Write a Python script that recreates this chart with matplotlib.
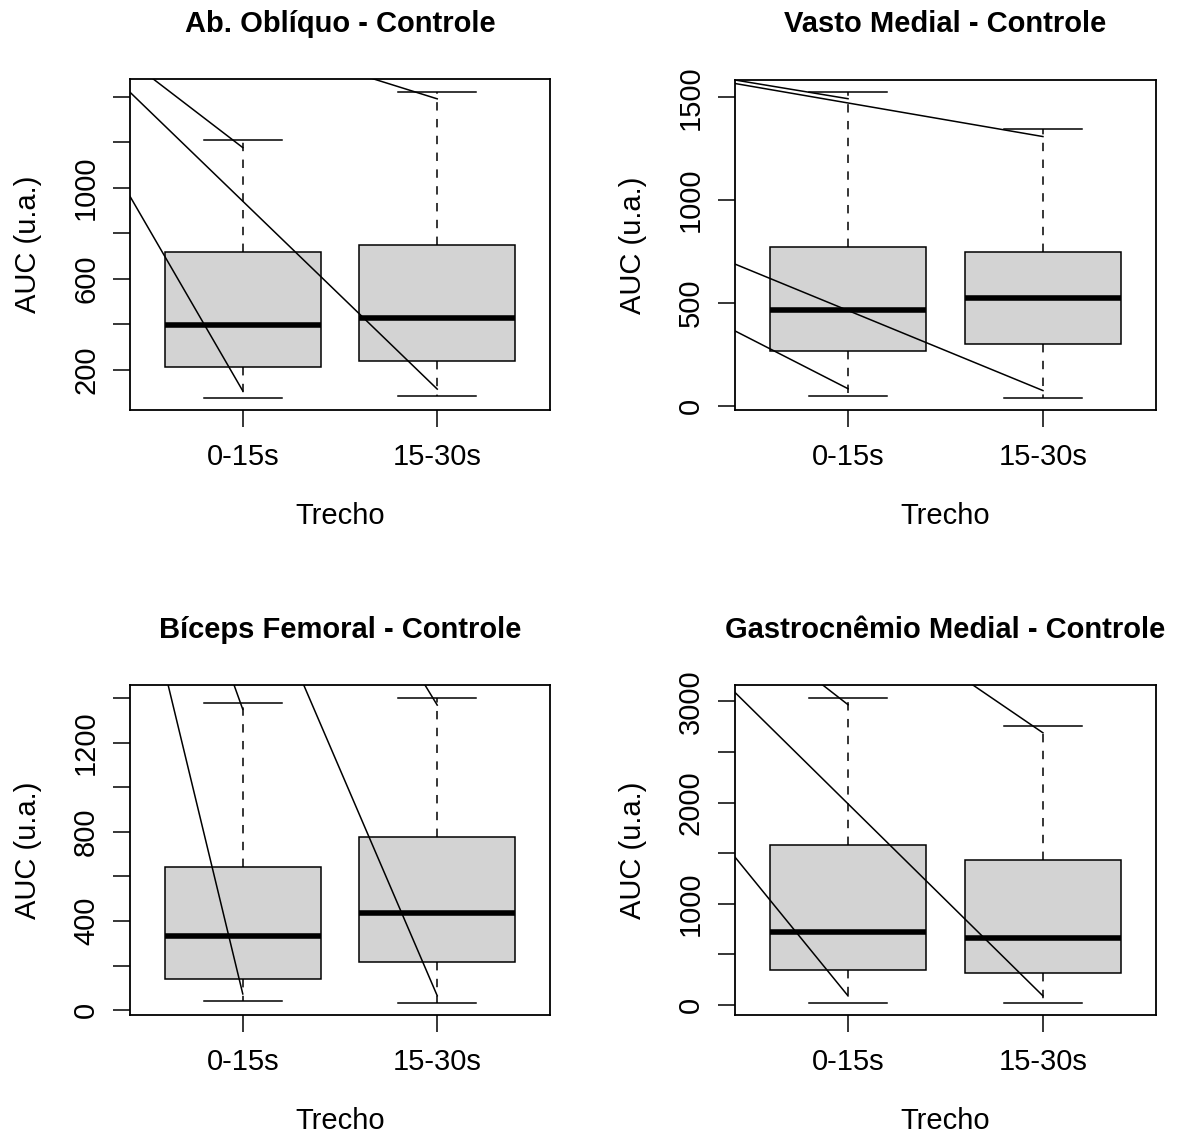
import matplotlib
matplotlib.use("Agg")
import matplotlib.pyplot as plt

plt.rcParams['font.family'] = ['Liberation Sans', 'DejaVu Sans']

# ---------------- data ----------------
titles = ["Ab. Oblíquo - Controle", "Vasto Medial - Controle",
          "Bíceps Femoral - Controle", "Gastrocnêmio Medial - Controle"]
groups = ["0-15s", "15-30s"]

# per panel: [0-15s, 15-30s]
whis_lo = [[78, 86], [47, 39], [40, 32], [18, 18]]
q1      = [[214, 240], [267, 302], [140, 218], [349, 313]]
med     = [[397, 429], [465, 522], [331, 436], [720, 666]]
q3      = [[717, 748], [773, 747], [641, 775], [1585, 1436]]
whis_hi = [[1210, 1422], [1526, 1347], [1376, 1402], [3039, 2761]]

# stray straight lines drawn over each panel (start x/y -> end x/y)
line_x0 = [[0.42, 0.42, 0.50, 1.55], [0.42, 0.42, 0.42, 0.42],
           [0.60, 1.28, 0.93, 1.90], [0.42, 0.42, 0.85, 1.60]]
line_y0 = [[962, 1419, 1503, 1510], [364, 689, 1584, 1567],
           [1516, 1526, 1519, 1511], [1461, 3089, 3193, 3216]]
line_x1 = [[1, 2, 1, 2], [1, 2, 1, 2], [1, 2, 1, 2], [1, 2, 1, 2]]
line_y1 = [[108, 116, 1176, 1390], [83, 74, 1493, 1309],
           [73, 65, 1349, 1368], [89, 89, 2968, 2690]]

yticks = [[200, 400, 600, 800, 1000, 1200, 1400],
          [0, 500, 1000, 1500],
          [0, 200, 400, 600, 800, 1000, 1200, 1400],
          [0, 500, 1000, 1500, 2000, 2500, 3000]]
ytick_labels = [["200", "", "600", "", "1000", "", ""],
                ["0", "500", "1000", "1500"],
                ["0", "", "400", "", "800", "", "1200", ""],
                ["0", "", "1000", "", "2000", "", "3000"]]

xlabel = "Trecho"
ylabel = "AUC (u.a.)"

# ---------------- layout ----------------
W, H = 1182, 1138
fig = plt.figure(figsize=(W / 100, H / 100), dpi=100)
boxes_px = [(130, 79.3, 550, 410), (735, 79.7, 1156, 410),
            (130, 685.3, 550, 1015.3), (735, 685.3, 1156, 1015.3)]

FS = 21
LW = 1.1
PX = 0.72  # points per pixel at 100 dpi

for i in range(4):
    l, t, r, b = boxes_px[i]
    ax = fig.add_axes([l / W, 1 - b / H, (r - l) / W, (b - t) / H])
    h_px = b - t
    w_px = r - l

    stats = []
    for g in range(2):
        stats.append(dict(med=med[i][g], q1=q1[i][g], q3=q3[i][g],
                          whislo=whis_lo[i][g], whishi=whis_hi[i][g],
                          fliers=[], label=groups[g]))
    ax.bxp(stats, positions=[1, 2], widths=0.8, showfliers=False,
           patch_artist=True,
           boxprops=dict(facecolor='#D3D3D3', edgecolor='black', linewidth=LW),
           medianprops=dict(color='black', linewidth=4.0, solid_capstyle='butt'),
           whiskerprops=dict(color='black', linewidth=LW, linestyle=(0, (5.5, 5.5))),
           capprops=dict(color='black', linewidth=LW))

    for k in range(len(line_x0[i])):
        ax.plot([line_x0[i][k], line_x1[i][k]], [line_y0[i][k], line_y1[i][k]],
                color='black', linewidth=LW, clip_on=True)

    lo = min(whis_lo[i])
    hi = max(whis_hi[i])
    pad = 0.04 * (hi - lo)
    ax.set_ylim(lo - pad, hi + pad)
    ax.set_xlim(0.42, 2.58)

    for s in ax.spines.values():
        s.set_linewidth(1.3)

    ax.set_xticks([1, 2])
    ax.set_xticklabels(groups, fontsize=FS)
    ax.set_yticks(yticks[i])
    ax.set_yticklabels(ytick_labels[i], fontsize=FS, rotation=90)
    ax.tick_params(axis='both', length=17 * PX, width=LW, direction='out')
    ax.tick_params(axis='x', pad=30 * PX)
    ax.tick_params(axis='y', pad=27 * PX)
    for lab in ax.get_xticklabels():
        lab.set_va('center')
    for lab in ax.get_yticklabels():
        lab.set_ha('center')
        lab.set_va('center')

    ax.set_xlabel(xlabel, fontsize=FS)
    ax.xaxis.set_label_coords(0.5, -106 / h_px)
    ax.xaxis.label.set_va('center')
    ax.set_ylabel(ylabel, fontsize=FS)
    ax.yaxis.set_label_coords(-102 / w_px, 0.5)
    ax.yaxis.label.set_va('center')
    ax.yaxis.label.set_ha('center')

    ax.set_title(titles[i], fontsize=FS, fontweight='bold',
                 y=1 + 47 / h_px, va='center')

fig.savefig("out.png", dpi=100)
